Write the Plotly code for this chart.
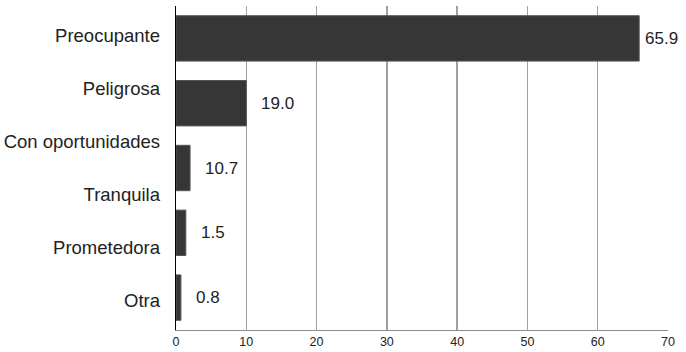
import plotly.graph_objects as go

# Category labels shown on the left axis (six, as in the reference)
categories = ["Preocupante", "Peligrosa", "Con oportunidades", "Tranquila", "Prometedora", "Otra"]
# Bar lengths as drawn (five bars)
bar_values = [65.9, 10.0, 2.0, 1.4, 0.7]
# Value labels printed next to the bars
value_labels = ["65.9", "19.0", "10.7", "1.5", "0.8"]
x_ticks = [0, 10, 20, 30, 40, 50, 60, 70]

bar_slots = list(range(len(bar_values)))
FONT = "Liberation Sans, Arial, sans-serif"

fig = go.Figure()
fig.add_trace(go.Bar(
    x=bar_values, y=bar_slots, orientation="h",
    marker=dict(color="#363636", line=dict(color="#555555", width=1)),
    width=0.7, hoverinfo="skip", showlegend=False,
))
# invisible trace to activate the category axis
fig.add_trace(go.Scatter(
    x=[0] * len(categories), y=list(range(len(categories))), yaxis="y2",
    mode="markers", marker=dict(opacity=0), hoverinfo="skip", showlegend=False,
))

annotations = []
for v, t, s in zip(bar_values, value_labels, bar_slots):
    annotations.append(dict(
        x=v, y=s, xref="x", yref="y", text=t, showarrow=False,
        xanchor="left", yanchor="middle", xshift=4 if v > 60 else 13,
        font=dict(family=FONT, size=17, color="#222222"),
    ))

fig.update_layout(
    width=686, height=352,
    margin=dict(l=176, r=18, t=6, b=22, autoexpand=False),
    paper_bgcolor="white", plot_bgcolor="white",
    xaxis=dict(
        range=[0, 70], tickvals=x_ticks, ticktext=[str(t) for t in x_ticks],
        showgrid=True, gridcolor="#a0a0a0", gridwidth=1.3,
        showline=True, linecolor="#8c8c8c", linewidth=1,
        zeroline=False, ticks="", automargin=False,
        tickfont=dict(family=FONT, size=12.5, color="#222222"),
        fixedrange=True,
    ),
    yaxis=dict(
        range=[len(bar_values) - 0.5, -0.5],
        showticklabels=False, showgrid=False, zeroline=False,
        showline=True, linecolor="#000000", linewidth=1.5,
        automargin=False, fixedrange=True,
    ),
    yaxis2=dict(
        overlaying="y", side="left",
        range=[len(categories) - 0.5 + 0.05, -0.5 - 0.05],
        tickvals=list(range(len(categories))), ticktext=categories,
        showgrid=False, zeroline=False, showline=False,
        ticks="", ticklabelstandoff=15, automargin=False,
        tickfont=dict(family=FONT, size=18.5, color="#222222"),
        fixedrange=True,
    ),
    annotations=annotations,
)

fig.write_html(
    "out.html",
    config={"displayModeBar": False, "staticPlot": True},
    post_script="document.body.style.margin='0';document.body.style.overflow='hidden';",
)
